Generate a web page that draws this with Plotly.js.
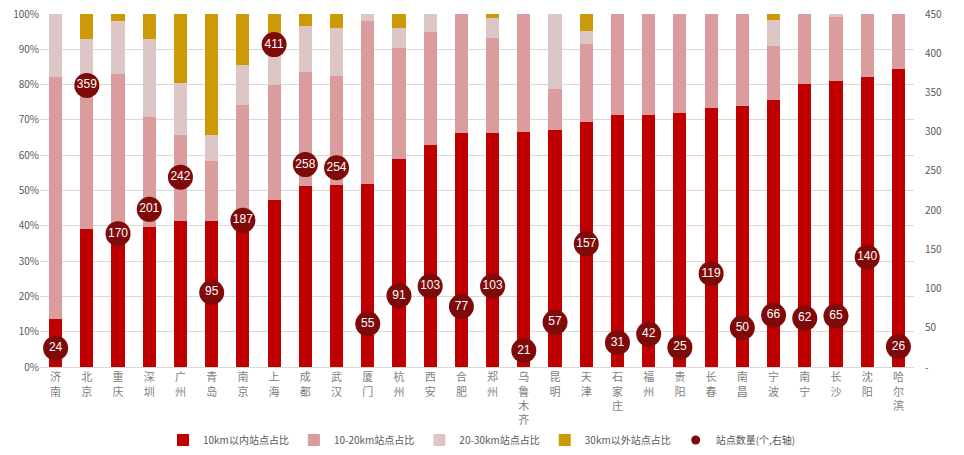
<!DOCTYPE html>
<html>
<head>
<meta charset="utf-8">
<script src="https://cdn.plot.ly/plotly-3.0.1.min.js"></script>
<style>
  html, body { margin: 0; padding: 0; background: #fff; }
  #chart { width: 964px; height: 455px; }
</style>
</head>
<body>
<div id="chart"></div>
<script>
// data ------------------------------------------------------------------------
var cities = ["济南", "北京", "重庆", "深圳", "广州", "青岛", "南京", "上海", "成都", "武汉",
	"厦门", "杭州", "西安", "合肥", "郑州", "乌鲁木齐", "昆明", "天津", "石家庄", "福州",
	"贵阳", "长春", "南昌", "宁波", "南宁", "长沙", "沈阳", "哈尔滨"];

// share of stations by distance band (%)
var within10 = [13.7, 39.2, 37.0, 39.8, 41.5, 41.5, 40.0, 47.4, 51.4, 51.7,
	51.9, 59.0, 63.0, 66.4, 66.4, 66.7, 67.2, 69.5, 71.5, 71.5,
	72.0, 73.5, 74.0, 75.7, 80.3, 81.1, 82.2, 84.5];
var km10to20 = [68.4, 38.8, 45.9, 30.9, 24.1, 17.0, 34.3, 32.6, 32.3, 30.8,
	46.2, 31.5, 32.0, 33.6, 26.9, 33.3, 11.6, 22.1, 28.5, 28.5,
	28.0, 26.5, 26.0, 15.3, 19.7, 18.0, 17.8, 15.5];
var km20to30 = [17.9, 15.0, 15.2, 22.3, 14.9, 7.3, 11.3, 13.0, 13.0, 13.5,
	1.9, 5.5, 5.0, 0, 5.6, 0, 21.2, 3.7, 0, 0,
	0, 0, 0, 7.4, 0, 0.9, 0, 0];
var beyond30 = [0, 7.0, 1.9, 7.0, 19.5, 34.2, 14.4, 7.0, 3.3, 4.0,
	0, 4.0, 0, 0, 1.1, 0, 0, 4.7, 0, 0,
	0, 0, 0, 1.6, 0, 0, 0, 0];

// station count (right axis)
var stationCount = [24, 359, 170, 201, 242, 95, 187, 411, 258, 254,
	55, 91, 103, 77, 103, 21, 57, 157, 31, 42,
	25, 119, 50, 66, 62, 65, 140, 26];

var seriesNames = ["10km以内站点占比", "10-20km站点占比", "20-30km站点占比", "30km以外站点占比", "站点数量(个,右轴)"];
var rightTicks = [0, 50, 100, 150, 200, 250, 300, 350, 400, 450];
var rightTickText = ["-", "50", "100", "150", "200", "250", "300", "350", "400", "450"];

// vertical category labels: one character per line
var xLabels = cities.map(function (c) { return c.split("").join("<br>"); });

// traces ----------------------------------------------------------------------
function barTrace(vals, name, color) {
	return {
		x: xLabels,
		y: vals,
		name: name,
		type: "bar",
		marker: { color: color },
		width: 0.42,
		hoverinfo: "y+name",
	};
}

var data = [
	barTrace(within10, seriesNames[0], "#C00000"),
	barTrace(km10to20, seriesNames[1], "#DA9C9C"),
	barTrace(km20to30, seriesNames[2], "#DCC6C6"),
	barTrace(beyond30, seriesNames[3], "#CC9A06"),
	{
		x: xLabels,
		y: stationCount,
		name: seriesNames[4],
		type: "scatter",
		mode: "markers+text",
		yaxis: "y2",
		text: stationCount.map(String),
		textposition: "middle center",
		textfont: { color: "#ffffff", size: 12, family: "Liberation Sans, Arial, sans-serif" },
		marker: { color: "#7E0A0A", size: 25 },
		cliponaxis: false,
		showlegend: false,
	},
	// legend entry only (smaller dot like the original legend)
	{
		x: [null],
		y: [null],
		name: seriesNames[4],
		type: "scatter",
		mode: "markers",
		yaxis: "y2",
		marker: { color: "#7E0A0A", size: 9 },
		hoverinfo: "skip",
	},
];

var layout = {
	width: 964,
	height: 455,
	margin: { l: 40, r: 50, t: 14, b: 88 },
	barmode: "stack",
	paper_bgcolor: "#ffffff",
	plot_bgcolor: "#ffffff",
	font: { family: "Noto Sans CJK SC, Liberation Sans, sans-serif", color: "#595959", size: 11 },
	showlegend: true,
	legend: {
		orientation: "h",
		x: 0.5,
		xanchor: "center",
		xref: "container",
		y: 0.033,
		yref: "container",
		yanchor: "middle",
		font: { size: 10, color: "#595959" },
		itemwidth: 30,
		traceorder: "normal",
	},
	xaxis: {
		type: "category",
		range: [-0.5, 27.5],
		tickfont: { size: 11, color: "#808080" },
		tickangle: 0,
		showgrid: false,
		showline: true,
		linecolor: "#d9d9d9",
		ticks: "",
		ticklabelstandoff: 0,
		automargin: false,
	},
	yaxis: {
		range: [0, 100],
		tickvals: [0, 10, 20, 30, 40, 50, 60, 70, 80, 90, 100],
		ticktext: ["0%", "10%", "20%", "30%", "40%", "50%", "60%", "70%", "80%", "90%", "100%"],
		gridcolor: "#d9d9d9",
		zeroline: false,
		tickfont: { size: 10, color: "#595959" },
		automargin: false,
		fixedrange: true,
	},
	yaxis2: {
		overlaying: "y",
		side: "right",
		range: [0, 450],
		tickvals: rightTicks,
		ticktext: rightTickText,
		showgrid: false,
		zeroline: false,
		tickfont: { size: 10, color: "#595959" },
		ticklabelstandoff: 10,
		automargin: false,
	},
};

Plotly.newPlot("chart", data, layout, { displayModeBar: false, staticPlot: true });
</script>
</body>
</html>
